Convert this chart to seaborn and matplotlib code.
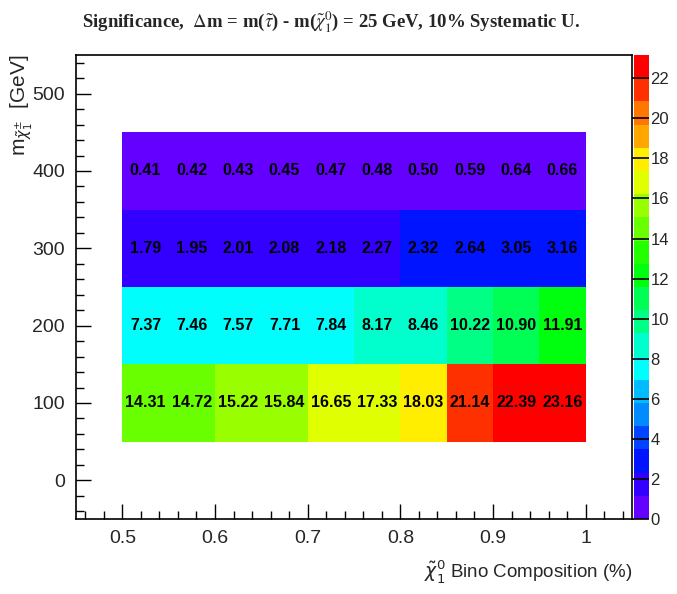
import colorsys
import numpy as np
import matplotlib
matplotlib.use("Agg")
import matplotlib.pyplot as plt
from matplotlib import font_manager
from matplotlib.colors import ListedColormap
from matplotlib.ticker import MultipleLocator
import seaborn as sns

# bin centres and significance values (one row per chargino mass)
bino_frac = [0.525, 0.575, 0.625, 0.675, 0.725, 0.775, 0.825, 0.875, 0.925, 0.975]
chargino_mass = [100, 200, 300, 400]
sig_100 = [14.31, 14.72, 15.22, 15.84, 16.65, 17.33, 18.03, 21.14, 22.39, 23.16]
sig_200 = [7.37, 7.46, 7.57, 7.71, 7.84, 8.17, 8.46, 10.22, 10.90, 11.91]
sig_300 = [1.79, 1.95, 2.01, 2.08, 2.18, 2.27, 2.32, 2.64, 3.05, 3.16]
sig_400 = [0.41, 0.42, 0.43, 0.45, 0.47, 0.48, 0.50, 0.59, 0.64, 0.66]
x_edges = [0.50, 0.55, 0.60, 0.65, 0.70, 0.75, 0.80, 0.85, 0.90, 0.95, 1.00]
y_edges = [50, 150, 250, 350, 450]
cbar_ticks = [0, 2, 4, 6, 8, 10, 12, 14, 16, 18, 20, 22]

rows = [sig_100, sig_200, sig_300, sig_400]
xs, ys, ws = [], [], []
for m, row in zip(chargino_mass, rows):
    for b, v in zip(bino_frac, row):
        xs.append(b)
        ys.append(m)
        ws.append(v)
zmax = max(ws)

# ROOT "pretty" palette (50 HLS colours violet->red), 20 contour levels
ndiv = 20
pal50 = []
for i in range(50):
    hue = 280 - (i + 1) * (280 / 50)
    pal50.append(colorsys.hls_to_rgb(hue / 360, 0.5, 1.0))
cmap = ListedColormap([pal50[int((k + 0.99) * 50 / ndiv)] for k in range(ndiv)])

sns.set_style("white")
names = {f.name for f in font_manager.fontManager.ttflist}
narrow = "Liberation Sans Narrow" if "Liberation Sans Narrow" in names else "Liberation Sans"
plt.rcParams["font.family"] = [narrow, "DejaVu Sans"]
plt.rcParams["axes.axisbelow"] = False

fig = plt.figure(figsize=(6.77, 5.94), dpi=100)
ax = fig.add_axes([0.1123, 0.1263, 0.8212, 0.7811])
cax = fig.add_axes([0.9365, 0.1263, 0.022, 0.7811])

sns.histplot(x=xs, y=ys, weights=ws, bins=[x_edges, y_edges], cmap=cmap,
             vmin=0, vmax=zmax, cbar=True, cbar_ax=cax, ax=ax, linewidth=0)

# cell values
for x, y, v in zip(xs, ys, ws):
    ax.text(x, y, f"{v:.2f}", ha="center", va="center", fontsize=11.5,
            fontweight="bold", color="black")

ax.set_xlim(0.45, 1.05)
ax.set_ylim(-50, 550)
ax.set_xlabel("")
ax.set_ylabel("")
ax.xaxis.set_minor_locator(MultipleLocator(0.02))
ax.yaxis.set_major_locator(MultipleLocator(100))
ax.yaxis.set_minor_locator(MultipleLocator(20))
ax.set_xticks([0.5, 0.6, 0.7, 0.8, 0.9, 1.0])
ax.set_xticklabels(["0.5", "0.6", "0.7", "0.8", "0.9", "1"])
ax.tick_params(which="both", direction="in", bottom=True, left=True,
               top=False, right=False, labelsize=14, width=1, color="black")
ax.tick_params(which="major", length=11, pad=8)
ax.tick_params(which="minor", length=5.5)
for s in ax.spines.values():
    s.set_visible(True)
    s.set_color("black")
    s.set_linewidth(1.2)

cax.set_axisbelow(False)
cax.set_yticks(cbar_ticks)
cax.yaxis.set_ticks_position("right")
cax.tick_params(which="major", direction="in", right=True, left=False,
                length=12, width=1.2, labelsize=12, pad=1, color="black")
cax.minorticks_off()
for s in cax.spines.values():
    s.set_visible(False)

fig.text(0.489, 0.963,
         r"Significance,  $\Delta$m = m($\tilde{\tau}$) - m($\tilde{\chi}_1^0$) = 25 GeV, 10% Systematic U.",
         ha="center", va="center", fontsize=13.5, fontweight="bold",
         family=["Liberation Serif", "DejaVu Serif"], math_fontfamily="stix")
fig.text(0.032, 0.9074, r"m$_{\tilde{\chi}_1^{\pm}}$  [GeV]", rotation=90,
         ha="center", va="top", fontsize=15, family=["Liberation Sans", "DejaVu Sans"],
         math_fontfamily="dejavusans")
fig.text(0.934, 0.038, r"$\tilde{\chi}_1^0$ Bino Composition (%)", ha="right",
         va="center", fontsize=13.5, math_fontfamily="dejavusans")

fig.savefig("out.png", dpi=100)
